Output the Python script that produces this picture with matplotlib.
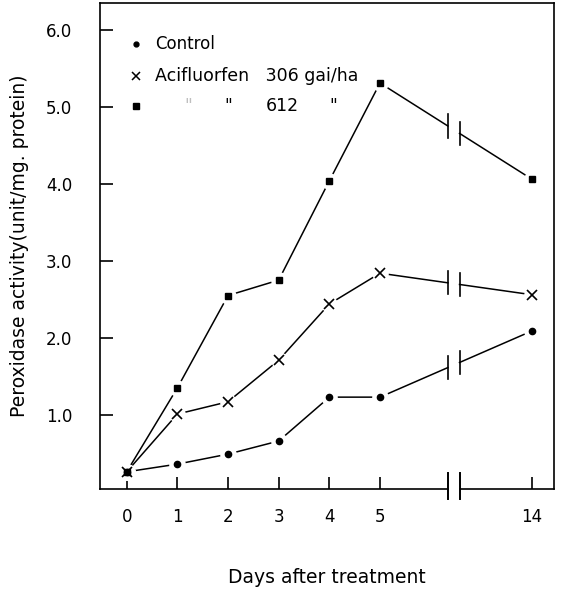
import numpy as np
import matplotlib
matplotlib.use("Agg")
import matplotlib.pyplot as plt

# data
days = [0, 1, 2, 3, 4, 5, 14]
control = [0.26, 0.36, 0.49, 0.66, 1.23, 1.23, 2.09]
acif_306 = [0.26, 1.01, 1.17, 1.71, 2.44, 2.84, 2.56]
acif_612 = [0.26, 1.35, 2.55, 2.75, 4.04, 5.31, 4.06]
y_ticks = [1.0, 2.0, 3.0, 4.0, 5.0, 6.0]

# day 14 is drawn after an axis break
x_pos = [0, 1, 2, 3, 4, 5, 8]
brk = (6.34, 6.57)

plt.rcParams["font.family"] = "DejaVu Sans"

fig = plt.figure(figsize=(5.61, 5.91), dpi=100)
ax = fig.add_axes([0.178, 0.173, 0.81, 0.822])
ax.set_xlim(-0.53, 8.44)
ax.set_ylim(0.04, 6.35)


def draw_series(vals, marker, ms, mew=1.0):
    xs = np.array(x_pos, dtype=float)
    ys = np.array(vals, dtype=float)
    y1 = np.interp(brk[0], xs, ys)
    y2 = np.interp(brk[1], xs, ys)
    # before the break
    ax.plot(list(xs[:6]) + [brk[0]], list(ys[:6]) + [y1], color="black", lw=1.1, zorder=2)
    # after the break
    ax.plot([brk[1], xs[6]], [y2, ys[6]], color="black", lw=1.1, zorder=2)
    for bx, by in [(brk[0], y1), (brk[1], y2)]:
        ax.plot([bx, bx], [by - 0.15, by + 0.15], color="black", lw=1.2, zorder=2)
    # white halo so lines stop short of the markers
    ax.plot(xs, ys, "o", color="white", ms=12, mec="none", zorder=3)
    ax.plot(xs, ys, marker, color="black", ms=ms, mew=mew, zorder=4)


draw_series(control, "o", 4.5)
draw_series(acif_306, "x", 7, 1.2)
draw_series(acif_612, "s", 4.2)

# axes and broken bottom spine
ax.spines["bottom"].set_visible(False)
for s in ["left", "top", "right"]:
    ax.spines[s].set_linewidth(1.2)
tr = ax.get_xaxis_transform()
ax.plot([-0.53, brk[0]], [0, 0], color="black", lw=1.2, transform=tr, clip_on=False)
ax.plot([brk[1], 8.44], [0, 0], color="black", lw=1.2, transform=tr, clip_on=False)
for bx in brk:
    ax.plot([bx, bx], [-0.021, 0.033], color="black", lw=1.4, transform=tr, clip_on=False)

ax.set_xticks(x_pos)
ax.set_xticklabels([str(d) for d in days])
ax.set_yticks(y_ticks)
ax.set_yticklabels([f"{v:.1f}" for v in y_ticks])
ax.tick_params(axis="both", direction="in", length=9, width=1.2, labelsize=12)
ax.tick_params(axis="y", pad=20)
ax.tick_params(axis="x", pad=14)

ax.set_xlabel("Days after treatment", fontsize=13.5, labelpad=30)
ax.set_ylabel("Peroxidase activity(unit/mg. protein)", fontsize=13.5, labelpad=12)

# legend typed inside the plot as in the original
lx_m, lx_t = 0.079, 0.121
rows = [0.916, 0.850, 0.788]
ax.plot([lx_m], [rows[0]], "o", color="black", ms=3.5, transform=ax.transAxes)
ax.plot([lx_m], [rows[1]], "x", color="black", ms=6, mew=1.1, transform=ax.transAxes)
ax.plot([lx_m], [rows[2]], "s", color="black", ms=4, transform=ax.transAxes)
ax.text(lx_t, rows[0], "Control", fontsize=12, va="center", transform=ax.transAxes)
ax.text(lx_t, rows[1], "Acifluorfen   306 gai/ha", fontsize=12.5, va="center", transform=ax.transAxes)
ax.text(0.185, rows[2], '"', fontsize=12, va="center", color="0.75", transform=ax.transAxes)
ax.text(0.275, rows[2], '"', fontsize=12, va="center", transform=ax.transAxes)
ax.text(0.365, rows[2], "612", fontsize=12.5, va="center", transform=ax.transAxes)
ax.text(0.505, rows[2], '"', fontsize=12, va="center", transform=ax.transAxes)

fig.savefig("out.png", dpi=100)
